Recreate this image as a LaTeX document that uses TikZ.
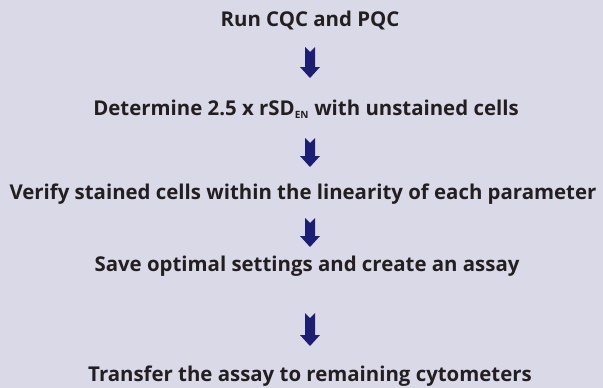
\documentclass[tikz,border=0pt]{standalone}
\usepackage{fontspec}
\setmainfont{Open Sans}
\definecolor{bgcol}{HTML}{DAD9E8}
\definecolor{arrowcol}{HTML}{1B1E72}
\definecolor{textcol}{HTML}{231F20}
\tikzset{
  steptext/.style={anchor=base, inner sep=0pt, text=textcol, font=\fontsize{20.4}{24}\selectfont\bfseries},
  blockarrow/.style={fill=arrowcol, draw=none}
}
\newcommand\flowarrow[2]{% #1 top coordinate name, #2 length
  \fill[blockarrow] ($(#1)+(-5,0)$) -- ($(#1)+(0,5)$) -- ($(#1)+(5,0)$)
    -- ($(#1)+(5,#2-11)$) -- ($(#1)+(10,#2-11)$) -- ($(#1)+(0,#2)$)
    -- ($(#1)+(-10,#2-11)$) -- ($(#1)+(-5,#2-11)$) -- cycle;}
\usetikzlibrary{calc}
\begin{document}
\begin{tikzpicture}[x=1pt,y=-1pt]
\fill[bgcol] (0,0) rectangle (603,388);
\useasboundingbox (0,0) rectangle (603,388);
\node[steptext] (s1) at (310,26) {Run CQC and PQC};
\node[steptext] (s2) at (306,115) {Determine 2.5 x rSD\textsubscript{\fontsize{10}{10}\selectfont EN} with unstained cells};
\node[steptext] (s3) at (303,199) {Verify stained cells within the linearity of each parameter};
\node[steptext] (s4) at (307,271) {Save optimal settings and create an assay};
\node[steptext] (s5) at (310,381) {Transfer the assay to remaining cytometers};
\coordinate (a1) at (310,47);
\coordinate (a2) at (310,138);
\coordinate (a3) at (310,218);
\coordinate (a4) at (310,313);
\flowarrow{a1}{31}
\flowarrow{a2}{29}
\flowarrow{a3}{29}
\flowarrow{a4}{33}
\end{tikzpicture}
\end{document}
